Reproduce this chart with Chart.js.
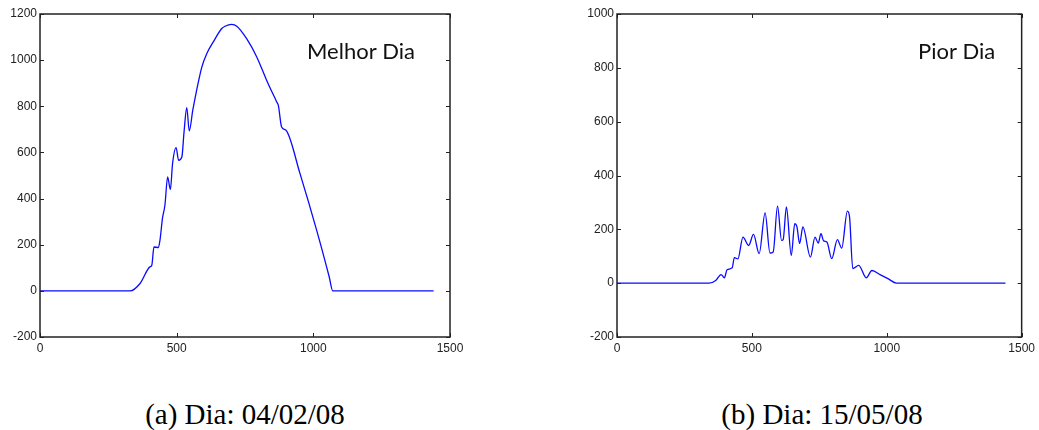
<!DOCTYPE html>
<html>
<head>
<meta charset="utf-8">
<script src="https://cdn.jsdelivr.net/npm/chart.js@4.4.1/dist/chart.umd.min.js"></script>
<style>
  body { margin: 0; background: #fff; width: 1039px; height: 430px; position: relative; overflow: hidden; }
  canvas { position: absolute; top: 0; }
  #best { left: 0; }
  #worst { left: 577px; }
  .caption {
    position: absolute; top: 400px; width: 300px; text-align: center;
    font: 29px "Liberation Serif", "Times New Roman", serif; line-height: 29px; color: #000;
  }
</style>
</head>
<body>
<canvas id="best" width="520" height="370"></canvas>
<canvas id="worst" width="462" height="370"></canvas>
<div class="caption" style="left: 95px;">(a) Dia: 04/02/08</div>
<div class="caption" style="left: 672px;">(b) Dia: 15/05/08</div>
<script>
// Melhor dia (04/02/08): minutos do dia x irradiância
const bestMinutes = [0, 330, 366, 402, 409, 417, 433, 439, 448, 457, 467, 477, 485, 498, 507, 519, 527, 537, 546, 559, 573, 592, 610, 634, 665, 677, 701, 720, 756, 793, 829, 866, 872, 884, 900, 951, 1012, 1058, 1071, 1440];
const bestValues = [0, 0, 32, 104, 111, 190, 188, 220, 314, 371, 494, 439, 552, 621, 566, 580, 689, 794, 693, 783, 869, 970, 1028, 1079, 1137, 1147, 1155, 1147, 1093, 1014, 913, 819, 804, 710, 696, 509, 263, 61, 0, 0];

// Pior dia (15/05/08)
const worstMinutes = [0, 341, 366, 386, 398, 408, 427, 435, 448, 467, 488, 506, 527, 549, 567, 579, 595, 610, 616, 628, 646, 659, 667, 677, 689, 717, 734, 746, 756, 766, 778, 796, 817, 833, 854, 862, 874, 896, 924, 945, 975, 1006, 1036, 1440];
const worstValues = [0, 0, 10, 32, 20, 50, 57, 95, 90, 171, 140, 181, 110, 261, 112, 116, 286, 159, 162, 283, 103, 221, 209, 147, 209, 97, 171, 149, 184, 157, 153, 91, 162, 130, 268, 246, 54, 66, 20, 47, 32, 16, 0, 0];

const xTicks = [0, 500, 1000, 1500];
const bestYRange = [-200, 1200];
const worstYRange = [-200, 1000];

// box around the plot with small inward ticks on all four sides
const frameTicks = {
  id: 'frameTicks',
  afterDraw(chart) {
    const { ctx, chartArea: a, scales: { x, y } } = chart;
    ctx.save();
    ctx.strokeStyle = '#222';
    ctx.lineWidth = 1.5;
    ctx.strokeRect(a.left, a.top, a.right - a.left, a.bottom - a.top);
    ctx.lineWidth = 1;
    ctx.beginPath();
    x.ticks.forEach(t => {
      const px = Math.round(x.getPixelForValue(t.value)) + 0.5;
      ctx.moveTo(px, a.bottom); ctx.lineTo(px, a.bottom - 4);
      ctx.moveTo(px, a.top); ctx.lineTo(px, a.top + 4);
    });
    y.ticks.forEach(t => {
      const py = Math.round(y.getPixelForValue(t.value)) + 0.5;
      ctx.moveTo(a.left, py); ctx.lineTo(a.left + 4, py);
      ctx.moveTo(a.right, py); ctx.lineTo(a.right - 4, py);
    });
    ctx.stroke();
    ctx.restore();
  }
};

// "Melhor Dia" / "Pior Dia" tag in the upper right
const cornerLabel = {
  id: 'cornerLabel',
  afterDraw(chart, args, opts) {
    const ctx = chart.ctx;
    ctx.save();
    ctx.font = '22px Lato, "Noto Sans", sans-serif';
    ctx.fillStyle = '#111';
    ctx.textAlign = 'left';
    ctx.textBaseline = 'alphabetic';
    ctx.fillText(opts.text, opts.x, opts.y);
    ctx.restore();
  }
};

const tickFont = { family: '"Liberation Sans", Arial, sans-serif', size: 12 };

function makeChart(id, minutes, values, yRange, label, labelX, rightPad) {
  const points = minutes.map((m, i) => ({ x: m, y: values[i] }));
  return new Chart(document.getElementById(id), {
    type: 'line',
    data: {
      datasets: [{
        data: points,
        borderColor: '#0a0aff',
        borderWidth: 1.3,
        pointRadius: 0,
        cubicInterpolationMode: 'monotone',
        fill: false
      }]
    },
    options: {
      responsive: false,
      animation: false,
      layout: { padding: { top: 14, right: rightPad, left: 0, bottom: 0 } },
      plugins: {
        legend: { display: false },
        tooltip: { enabled: false },
        cornerLabel: { text: label, x: labelX, y: 59 }
      },
      scales: {
        x: {
          type: 'linear',
          min: 0, max: 1500,
          afterBuildTicks: s => { s.ticks = xTicks.map(v => ({ value: v })); },
          afterFit: s => { s.height = 33; },
          grid: { display: false, drawTicks: false },
          border: { display: false },
          ticks: { padding: 4, color: '#222', font: tickFont, callback: v => String(v) }
        },
        y: {
          min: yRange[0], max: yRange[1],
          ticks: { stepSize: 200, padding: 3, color: '#222', font: tickFont, callback: v => String(v) },
          afterFit: s => { s.width = 40; },
          grid: { display: false, drawTicks: false },
          border: { display: false }
        }
      }
    },
    plugins: [frameTicks, cornerLabel]
  });
}

makeChart('best', bestMinutes, bestValues, bestYRange, 'Melhor Dia', 307, 70);
makeChart('worst', worstMinutes, worstValues, worstYRange, 'Pior Dia', 341, 12);
</script>
</body>
</html>
